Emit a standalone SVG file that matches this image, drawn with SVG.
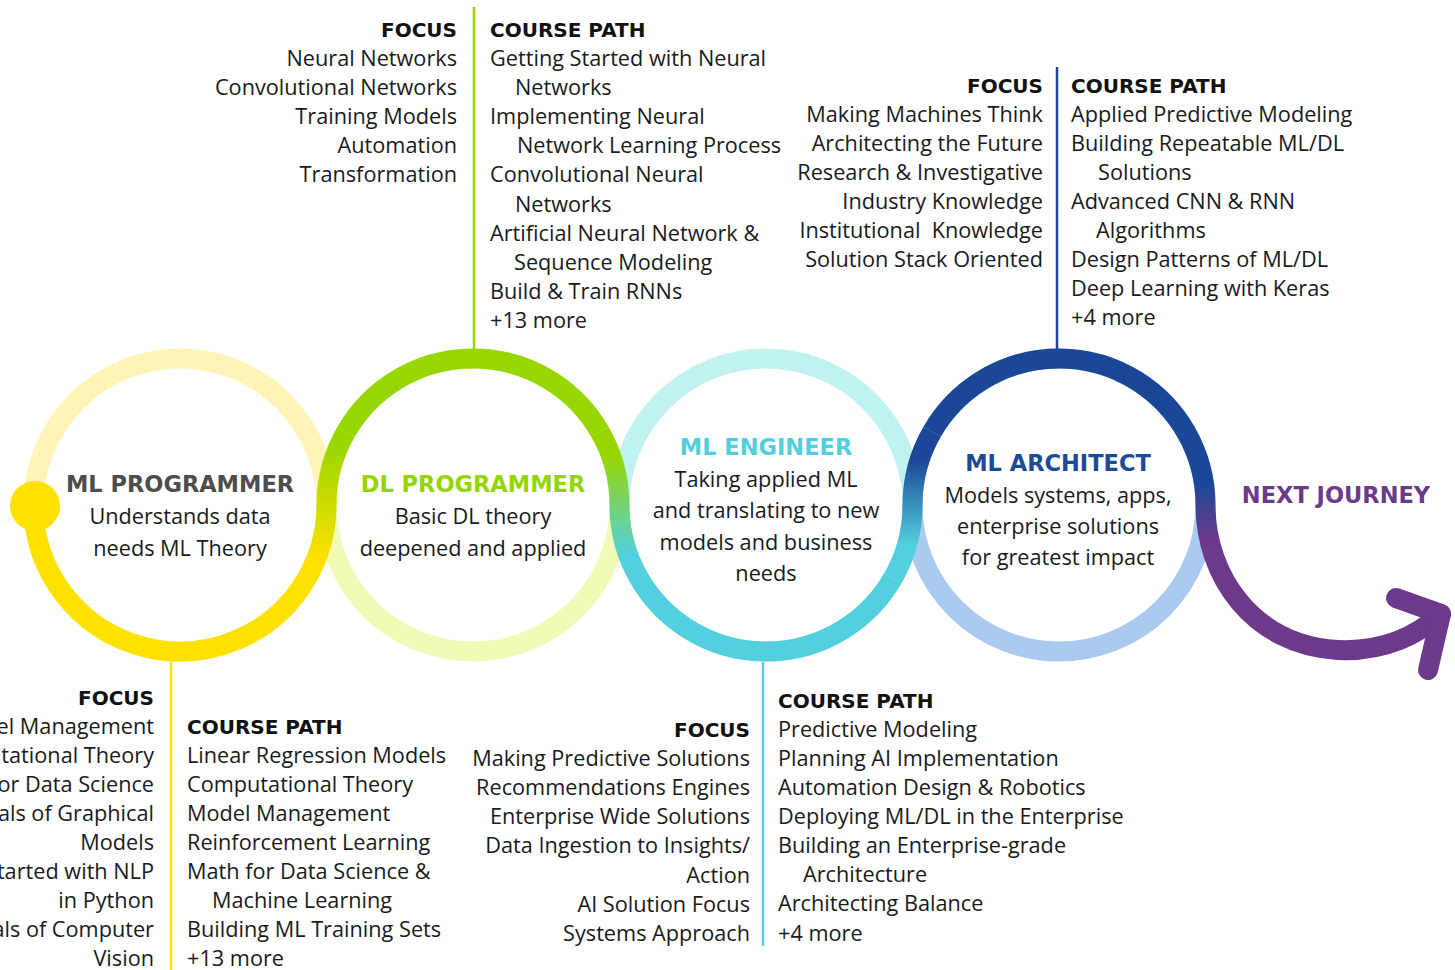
<svg xmlns="http://www.w3.org/2000/svg" width="1455" height="970" viewBox="0 0 1455 970">
<style>
.b{font-family:'Open Sans','Liberation Sans',sans-serif;font-size:21.7px;fill:#1a1a1a}
.h{font-family:'DejaVu Sans','Liberation Sans',sans-serif;font-weight:700;font-size:20px;fill:#111}
.t{font-family:'DejaVu Sans','Liberation Sans',sans-serif;font-weight:700;font-size:22.5px;text-anchor:middle}
.r{text-anchor:end}
.c{text-anchor:middle}
.ring{fill:none;stroke-width:20}
.trk{fill:none;stroke-width:20}
.vl{stroke-width:2.5}
</style>
<defs>
<linearGradient id="g12" gradientUnits="userSpaceOnUse" x1="0" y1="560" x2="0" y2="445"><stop offset="0" stop-color="#FFE100"/><stop offset="1" stop-color="#97D700"/></linearGradient>
<linearGradient id="g23" gradientUnits="userSpaceOnUse" x1="0" y1="455" x2="0" y2="555"><stop offset="0" stop-color="#97D700"/><stop offset="1" stop-color="#52D0DE"/></linearGradient>
<linearGradient id="g34" gradientUnits="userSpaceOnUse" x1="0" y1="545" x2="0" y2="460"><stop offset="0" stop-color="#52D0DE"/><stop offset="1" stop-color="#1B4896"/></linearGradient>
<linearGradient id="g4a" gradientUnits="userSpaceOnUse" x1="0" y1="483" x2="0" y2="540"><stop offset="0" stop-color="#1B4896"/><stop offset="1" stop-color="#6D398B"/></linearGradient>
</defs>

<g id="rings">
<circle class="ring" cx="180" cy="505" r="146.5" stroke="#FFF3B5"/>
<circle class="ring" cx="473" cy="505" r="146.5" stroke="#EEFAB6"/>
<circle class="ring" cx="766" cy="505" r="146.5" stroke="#C0F2F2"/>
<circle class="ring" cx="1059" cy="505" r="146.5" stroke="#A9C9EF"/>
</g>

<g id="connectors">
<path class="trk" stroke="#FFE100" d="M33.5,505 A146.5,146.5 0 0 0 306.87,578.25"/>
<path class="trk" stroke="url(#g12)" d="M306.87,578.25 A146.5,146.5 0 0 0 326.5,505 A146.5,146.5 0 0 1 346.13,431.75"/>
<path class="trk" stroke="#97D700" d="M346.13,431.75 A146.5,146.5 0 0 1 599.87,431.75"/>
<path class="trk" stroke="url(#g23)" d="M599.87,431.75 A146.5,146.5 0 0 1 619.5,505 A146.5,146.5 0 0 0 639.13,578.25"/>
<path class="trk" stroke="#52D0DE" d="M639.13,578.25 A146.5,146.5 0 0 0 892.87,578.25"/>
<path class="trk" stroke="url(#g34)" d="M892.87,578.25 A146.5,146.5 0 0 0 912.5,505 A146.5,146.5 0 0 1 932.13,431.75"/>
<path class="trk" stroke="#1B4896" d="M932.13,431.75 A146.5,146.5 0 0 1 1185.87,431.75"/>
<path class="trk" stroke="url(#g4a)" stroke-linecap="round" d="M1185.87,431.75 A146.5,146.5 0 0 1 1205.5,505 C1205.5,575 1252,645 1338,650 C1386,652 1420,633 1441,614"/>
<path fill="none" stroke="#6D398B" stroke-width="20" stroke-linecap="round" stroke-linejoin="round" d="M1396,598 L1441,614 L1428,670"/>
<circle cx="35" cy="506" r="25" fill="#FFE100"/>
<line class="vl" x1="171" y1="662" x2="171" y2="970" stroke="#FFE100"/>
<line class="vl" x1="474" y1="7" x2="474" y2="350" stroke="#97D700"/>
<line class="vl" x1="763" y1="662" x2="763" y2="946" stroke="#52D0DE"/>
<line class="vl" x1="1057" y1="67" x2="1057" y2="350" stroke="#1B4896"/>
</g>

<g id="node-ml-programmer">
<text class="t" x="180" y="492" fill="#4D4D4D">ML PROGRAMMER</text>
<text class="b c" x="180" y="524">Understands data</text>
<text class="b c" x="180" y="556">needs ML Theory</text>
</g>
<g id="node-dl-programmer">
<text class="t" x="473" y="492" fill="#94D500">DL PROGRAMMER</text>
<text class="b c" x="473" y="524">Basic DL theory</text>
<text class="b c" x="473" y="556">deepened and applied</text>
</g>
<g id="node-ml-engineer">
<text class="t" x="766" y="455" fill="#52CFDD">ML ENGINEER</text>
<text class="b c" x="766" y="487">Taking applied ML</text>
<text class="b c" x="766" y="518">and translating to new</text>
<text class="b c" x="766" y="550">models and business</text>
<text class="b c" x="766" y="581">needs</text>
</g>
<g id="node-ml-architect">
<text class="t" x="1058" y="471" fill="#1C4A94">ML ARCHITECT</text>
<text class="b c" x="1058" y="503">Models systems, apps,</text>
<text class="b c" x="1058" y="534">enterprise solutions</text>
<text class="b c" x="1058" y="565">for greatest impact</text>
</g>
<g id="node-next-journey">
<text class="t" x="1336" y="503" fill="#6B3A8B">NEXT JOURNEY</text>
</g>

<g id="dl-focus">
<text class="h r" x="457" y="37">FOCUS</text>
<text class="b r" x="457" y="66">Neural Networks</text>
<text class="b r" x="457" y="95">Convolutional Networks</text>
<text class="b r" x="457" y="124">Training Models</text>
<text class="b r" x="457" y="153">Automation</text>
<text class="b r" x="457" y="182">Transformation</text>
</g>
<g id="dl-course">
<text class="h" x="490" y="37">COURSE PATH</text>
<text class="b" x="490" y="66">Getting Started with Neural</text>
<text class="b" x="515" y="95">Networks</text>
<text class="b" x="490" y="124">Implementing Neural</text>
<text class="b" x="517" y="153">Network Learning Process</text>
<text class="b" x="490" y="182">Convolutional Neural</text>
<text class="b" x="515" y="212">Networks</text>
<text class="b" x="490" y="241">Artificial Neural Network &amp;</text>
<text class="b" x="514" y="270">Sequence Modeling</text>
<text class="b" x="490" y="299">Build &amp; Train RNNs</text>
<text class="b" x="490" y="328">+13 more</text>
</g>

<g id="arch-focus">
<text class="h r" x="1043" y="93">FOCUS</text>
<text class="b r" x="1043" y="122">Making Machines Think</text>
<text class="b r" x="1043" y="151">Architecting the Future</text>
<text class="b r" x="1043" y="180">Research &amp; Investigative</text>
<text class="b r" x="1043" y="209">Industry Knowledge</text>
<text class="b r" x="1043" y="238">Institutional&#160; Knowledge</text>
<text class="b r" x="1043" y="267">Solution Stack Oriented</text>
</g>
<g id="arch-course">
<text class="h" x="1071" y="93">COURSE PATH</text>
<text class="b" x="1071" y="122">Applied Predictive Modeling</text>
<text class="b" x="1071" y="151">Building Repeatable ML/DL</text>
<text class="b" x="1098" y="180">Solutions</text>
<text class="b" x="1071" y="209">Advanced CNN &amp; RNN</text>
<text class="b" x="1096" y="238">Algorithms</text>
<text class="b" x="1071" y="267">Design Patterns of ML/DL</text>
<text class="b" x="1071" y="296">Deep Learning with Keras</text>
<text class="b" x="1071" y="325">+4 more</text>
</g>

<g id="prog-focus">
<text class="h r" x="154" y="705">FOCUS</text>
<text class="b r" x="154" y="734">el Management</text>
<text class="b r" x="154" y="763">utational Theory</text>
<text class="b r" x="154" y="792">for Data Science</text>
<text class="b r" x="154" y="821">als of Graphical</text>
<text class="b r" x="154" y="850">Models</text>
<text class="b r" x="154" y="879">tarted with NLP</text>
<text class="b r" x="154" y="908">in Python</text>
<text class="b r" x="154" y="937">als of Computer</text>
<text class="b r" x="154" y="966">Vision</text>
</g>
<g id="prog-course">
<text class="h" x="187" y="734">COURSE PATH</text>
<text class="b" x="187" y="763">Linear Regression Models</text>
<text class="b" x="187" y="792">Computational Theory</text>
<text class="b" x="187" y="821">Model Management</text>
<text class="b" x="187" y="850">Reinforcement Learning</text>
<text class="b" x="187" y="879">Math for Data Science &amp;</text>
<text class="b" x="212" y="908">Machine Learning</text>
<text class="b" x="187" y="937">Building ML Training Sets</text>
<text class="b" x="187" y="966">+13 more</text>
</g>

<g id="eng-focus">
<text class="h r" x="750" y="737">FOCUS</text>
<text class="b r" x="750" y="766">Making Predictive Solutions</text>
<text class="b r" x="750" y="795">Recommendations Engines</text>
<text class="b r" x="750" y="824">Enterprise Wide Solutions</text>
<text class="b r" x="750" y="853">Data Ingestion to Insights/</text>
<text class="b r" x="750" y="883">Action</text>
<text class="b r" x="750" y="912">AI Solution Focus</text>
<text class="b r" x="750" y="941">Systems Approach</text>
</g>
<g id="eng-course">
<text class="h" x="778" y="708">COURSE PATH</text>
<text class="b" x="778" y="737">Predictive Modeling</text>
<text class="b" x="778" y="766">Planning AI Implementation</text>
<text class="b" x="778" y="795">Automation Design &amp; Robotics</text>
<text class="b" x="778" y="824">Deploying ML/DL in the Enterprise</text>
<text class="b" x="778" y="853">Building an Enterprise-grade</text>
<text class="b" x="803" y="882">Architecture</text>
<text class="b" x="778" y="911">Architecting Balance</text>
<text class="b" x="778" y="941">+4 more</text>
</g>
</svg>
